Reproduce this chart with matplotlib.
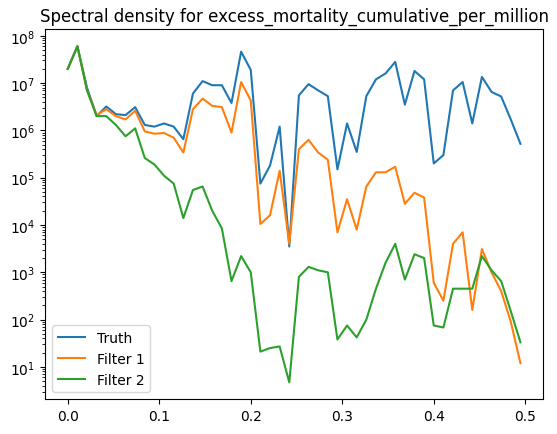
import numpy as np
import matplotlib
matplotlib.use("Agg")
import matplotlib.pyplot as plt

freq = np.arange(48) / 95
truth = [2e7,6e7,8e6,2e6,3.2e6,2.2e6,2.1e6,3.1e6,1.3e6,1.2e6,1.4e6,1.2e6,6.5e5,6e6,1.1e7,9e6,9e6,3.8e6,4.6e7,1.9e7,
         7.5e4,1.8e5,1.2e6,3.5e3,5.5e6,9.5e6,7e6,5.3e6,1.5e5,1.4e6,3.5e5,5.3e6,1.2e7,1.6e7,2.8e7,3.5e6,1.8e7,1.2e7,
         2e5,3e5,7e6,1.05e7,1.4e6,1.35e7,6.5e6,5.2e6,1.7e6,5.2e5]
filter1 = [2e7,6e7,7e6,2.1e6,2.8e6,2e6,1.7e6,2.6e6,9.5e5,8.5e5,8.8e5,7e5,3.4e5,2.8e6,4.7e6,3.3e6,3.1e6,9e5,1.05e7,4.3e6,
           1.05e4,1.6e4,1.4e5,4e3,4e5,6.3e5,3.4e5,2.4e5,7e3,3.5e4,8e3,6.5e4,1.3e5,1.3e5,1.7e5,2.8e4,4.8e4,3.8e4,
           600,250,4e3,7e3,160,3.1e3,1e3,400,90,12]
filter2 = [2e7,6e7,7e6,2e6,2e6,1.3e6,7.5e5,1.1e6,2.6e5,1.9e5,1.1e5,7.5e4,1.4e4,5.5e4,6.5e4,2e4,8.5e3,650,2.2e3,1e3,
           21,25,27,4.7,800,1.3e3,1.1e3,1e3,38,75,42,100,450,1.6e3,4e3,700,2.4e3,2e3,
           75,68,450,450,450,2.2e3,1.1e3,650,150,33]

fig, ax = plt.subplots(figsize=(5.57, 4.35), dpi=100)
ax.plot(freq, truth, label="Truth")
ax.plot(freq, filter1, label="Filter 1")
ax.plot(freq, filter2, label="Filter 2")
ax.set_yscale("log")
ax.set_title("Spectral density for excess_mortality_cumulative_per_million")
ax.legend(loc="lower left")
fig.subplots_adjust(left=0.081, right=0.975, top=0.93, bottom=0.08)
fig.savefig("out.png")
